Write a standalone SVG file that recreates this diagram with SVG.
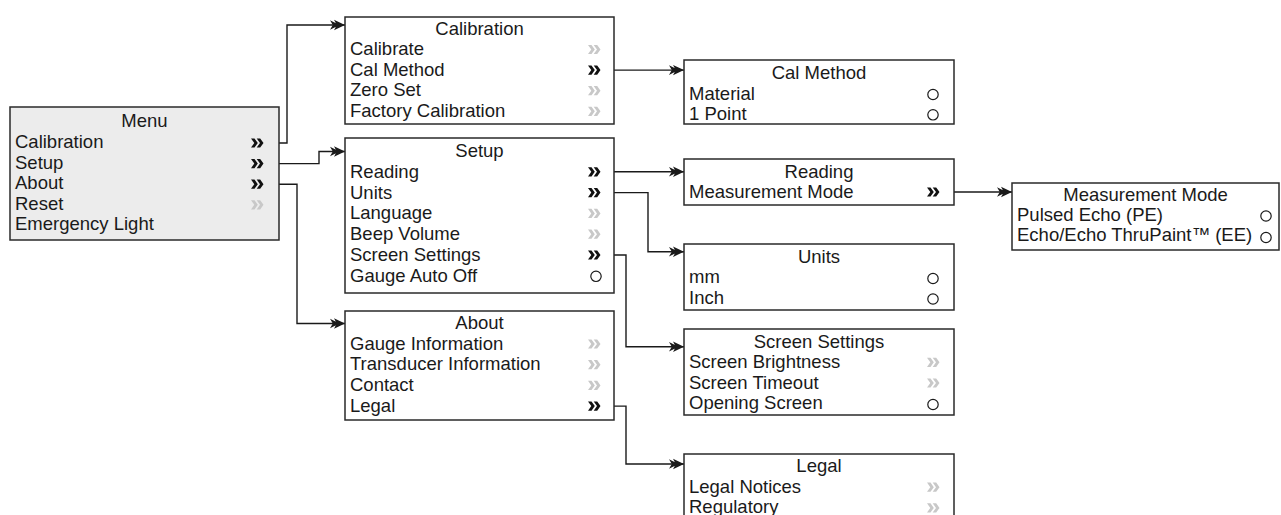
<svg xmlns="http://www.w3.org/2000/svg" xmlns:xlink="http://www.w3.org/1999/xlink" width="1281" height="515" viewBox="0 0 1281 515">
<style>
.box{fill:#ffffff;stroke:#2a2a2a;stroke-width:1.5}
.menu{fill:#ececec}
.t{font-family:"Liberation Sans",Arial,Helvetica,sans-serif;font-size:18.5px;fill:#1a1a1a}
.c{text-anchor:middle}
.cb{fill:#111111}
.cg{fill:#c8c8c8}
.rd{fill:none;stroke:#1a1a1a;stroke-width:1.2}
.ln{fill:none;stroke:#1a1a1a;stroke-width:1.4;marker-end:url(#arr)}
</style>
<defs>
<marker id="arr" viewBox="-16 -6 17 12" refX="0" refY="0" markerWidth="17" markerHeight="12" markerUnits="userSpaceOnUse" orient="auto">
<path d="M0,0 L-11,-5.2 L-8.2,0 L-11,5.2 Z M-5.5,0 L-15,-4.8 L-12.2,0 L-15,4.8 Z" fill="#1a1a1a"/>
</marker>
<path id="chv" d="M0,-4.6 H3.5 L6.8,0 L3.5,4.6 H0 L3.3,0 Z M5.7,-4.6 H9.2 L12.5,0 L9.2,4.6 H5.7 L9,0 Z"/>
</defs>

<g id="connectors">
<path class="ln" d="M263,143 H287 V25 H345"/>
<path class="ln" d="M263,163.6 H319 V151.5 H345"/>
<path class="ln" d="M263,184.2 H297 V323.5 H345"/>
<path class="ln" d="M600,70.1 H684"/>
<path class="ln" d="M600,171.8 H684"/>
<path class="ln" d="M600,192.6 H648 V251.7 H684"/>
<path class="ln" d="M600,255 H626 V346.7 H684"/>
<path class="ln" d="M600,406.1 H626 V464 H684"/>
<path class="ln" d="M939,192 H1012"/>
</g>

<g id="menu">
<rect class="box menu" x="10" y="107" width="269" height="133"/>
<text class="t c" x="144.5" y="127">Menu</text>
<text class="t" x="15" y="148">Calibration</text>
<text class="t" x="15" y="168.6">Setup</text>
<text class="t" x="15" y="189.2">About</text>
<text class="t" x="15" y="209.8">Reset</text>
<text class="t" x="15" y="230.4">Emergency Light</text>
<use href="#chv" xlink:href="#chv" class="cb" x="251" y="143"/>
<use href="#chv" xlink:href="#chv" class="cb" x="251" y="163.6"/>
<use href="#chv" xlink:href="#chv" class="cb" x="251" y="184.2"/>
<use href="#chv" xlink:href="#chv" class="cg" x="251" y="204.8"/>
</g>

<g id="calibration">
<rect class="box" x="345" y="17" width="269" height="107"/>
<text class="t c" x="479.5" y="35">Calibration</text>
<text class="t" x="350" y="55">Calibrate</text>
<text class="t" x="350" y="75.6">Cal Method</text>
<text class="t" x="350" y="96.2">Zero Set</text>
<text class="t" x="350" y="116.8">Factory Calibration</text>
<use href="#chv" xlink:href="#chv" class="cg" x="588" y="49.5"/>
<use href="#chv" xlink:href="#chv" class="cb" x="588" y="70.1"/>
<use href="#chv" xlink:href="#chv" class="cg" x="588" y="90.7"/>
<use href="#chv" xlink:href="#chv" class="cg" x="588" y="111.3"/>
</g>

<g id="setup">
<rect class="box" x="345" y="138" width="269" height="155"/>
<text class="t c" x="479.5" y="157">Setup</text>
<text class="t" x="350" y="177.8">Reading</text>
<text class="t" x="350" y="198.6">Units</text>
<text class="t" x="350" y="219.4">Language</text>
<text class="t" x="350" y="240.2">Beep Volume</text>
<text class="t" x="350" y="261">Screen Settings</text>
<text class="t" x="350" y="281.8">Gauge Auto Off</text>
<use href="#chv" xlink:href="#chv" class="cb" x="588" y="171.8"/>
<use href="#chv" xlink:href="#chv" class="cb" x="588" y="192.6"/>
<use href="#chv" xlink:href="#chv" class="cg" x="588" y="213.4"/>
<use href="#chv" xlink:href="#chv" class="cg" x="588" y="234.2"/>
<use href="#chv" xlink:href="#chv" class="cb" x="588" y="255"/>
<circle class="rd" cx="596" cy="276.3" r="5.2"/>
</g>

<g id="about">
<rect class="box" x="345" y="311" width="269" height="109"/>
<text class="t c" x="479.5" y="329">About</text>
<text class="t" x="350" y="349.6">Gauge Information</text>
<text class="t" x="350" y="370.3">Transducer Information</text>
<text class="t" x="350" y="391">Contact</text>
<text class="t" x="350" y="411.7">Legal</text>
<use href="#chv" xlink:href="#chv" class="cg" x="588" y="344"/>
<use href="#chv" xlink:href="#chv" class="cg" x="588" y="364.7"/>
<use href="#chv" xlink:href="#chv" class="cg" x="588" y="385.4"/>
<use href="#chv" xlink:href="#chv" class="cb" x="588" y="406.1"/>
</g>

<g id="cal-method">
<rect class="box" x="684" y="60" width="270" height="64"/>
<text class="t c" x="819" y="79">Cal Method</text>
<text class="t" x="689" y="99.5">Material</text>
<text class="t" x="689" y="119.8">1 Point</text>
<circle class="rd" cx="933" cy="94.5" r="5.2"/>
<circle class="rd" cx="933" cy="114.8" r="5.2"/>
</g>

<g id="reading">
<rect class="box" x="684" y="159" width="270" height="46"/>
<text class="t c" x="819" y="177.5">Reading</text>
<text class="t" x="689" y="197.8">Measurement Mode</text>
<use href="#chv" xlink:href="#chv" class="cb" x="927" y="192"/>
</g>

<g id="measurement-mode">
<rect class="box" x="1012" y="183" width="267" height="67"/>
<text class="t c" x="1145.5" y="201">Measurement Mode</text>
<text class="t" x="1017" y="220.5">Pulsed Echo (PE)</text>
<text class="t" x="1017" y="241.2">Echo/Echo ThruPaint™ (EE)</text>
<circle class="rd" cx="1266" cy="216" r="5.2"/>
<circle class="rd" cx="1266" cy="237.5" r="5.2"/>
</g>

<g id="units">
<rect class="box" x="684" y="244" width="270" height="66"/>
<text class="t c" x="819" y="262.5">Units</text>
<text class="t" x="689" y="283.3">mm</text>
<text class="t" x="689" y="303.8">Inch</text>
<circle class="rd" cx="933" cy="278.5" r="5.2"/>
<circle class="rd" cx="933" cy="299" r="5.2"/>
</g>

<g id="screen-settings">
<rect class="box" x="684" y="329" width="270" height="86"/>
<text class="t c" x="819" y="348">Screen Settings</text>
<text class="t" x="689" y="367.8">Screen Brightness</text>
<text class="t" x="689" y="388.5">Screen Timeout</text>
<text class="t" x="689" y="409.2">Opening Screen</text>
<use href="#chv" xlink:href="#chv" class="cg" x="927" y="362.3"/>
<use href="#chv" xlink:href="#chv" class="cg" x="927" y="383"/>
<circle class="rd" cx="933" cy="404.5" r="5.2"/>
</g>

<g id="legal">
<rect class="box" x="684" y="454" width="270" height="80"/>
<text class="t c" x="819" y="472">Legal</text>
<text class="t" x="689" y="492.7">Legal Notices</text>
<text class="t" x="689" y="513.4">Regulatory</text>
<use href="#chv" xlink:href="#chv" class="cg" x="927" y="487.2"/>
<use href="#chv" xlink:href="#chv" class="cg" x="927" y="507.9"/>
</g>
</svg>
